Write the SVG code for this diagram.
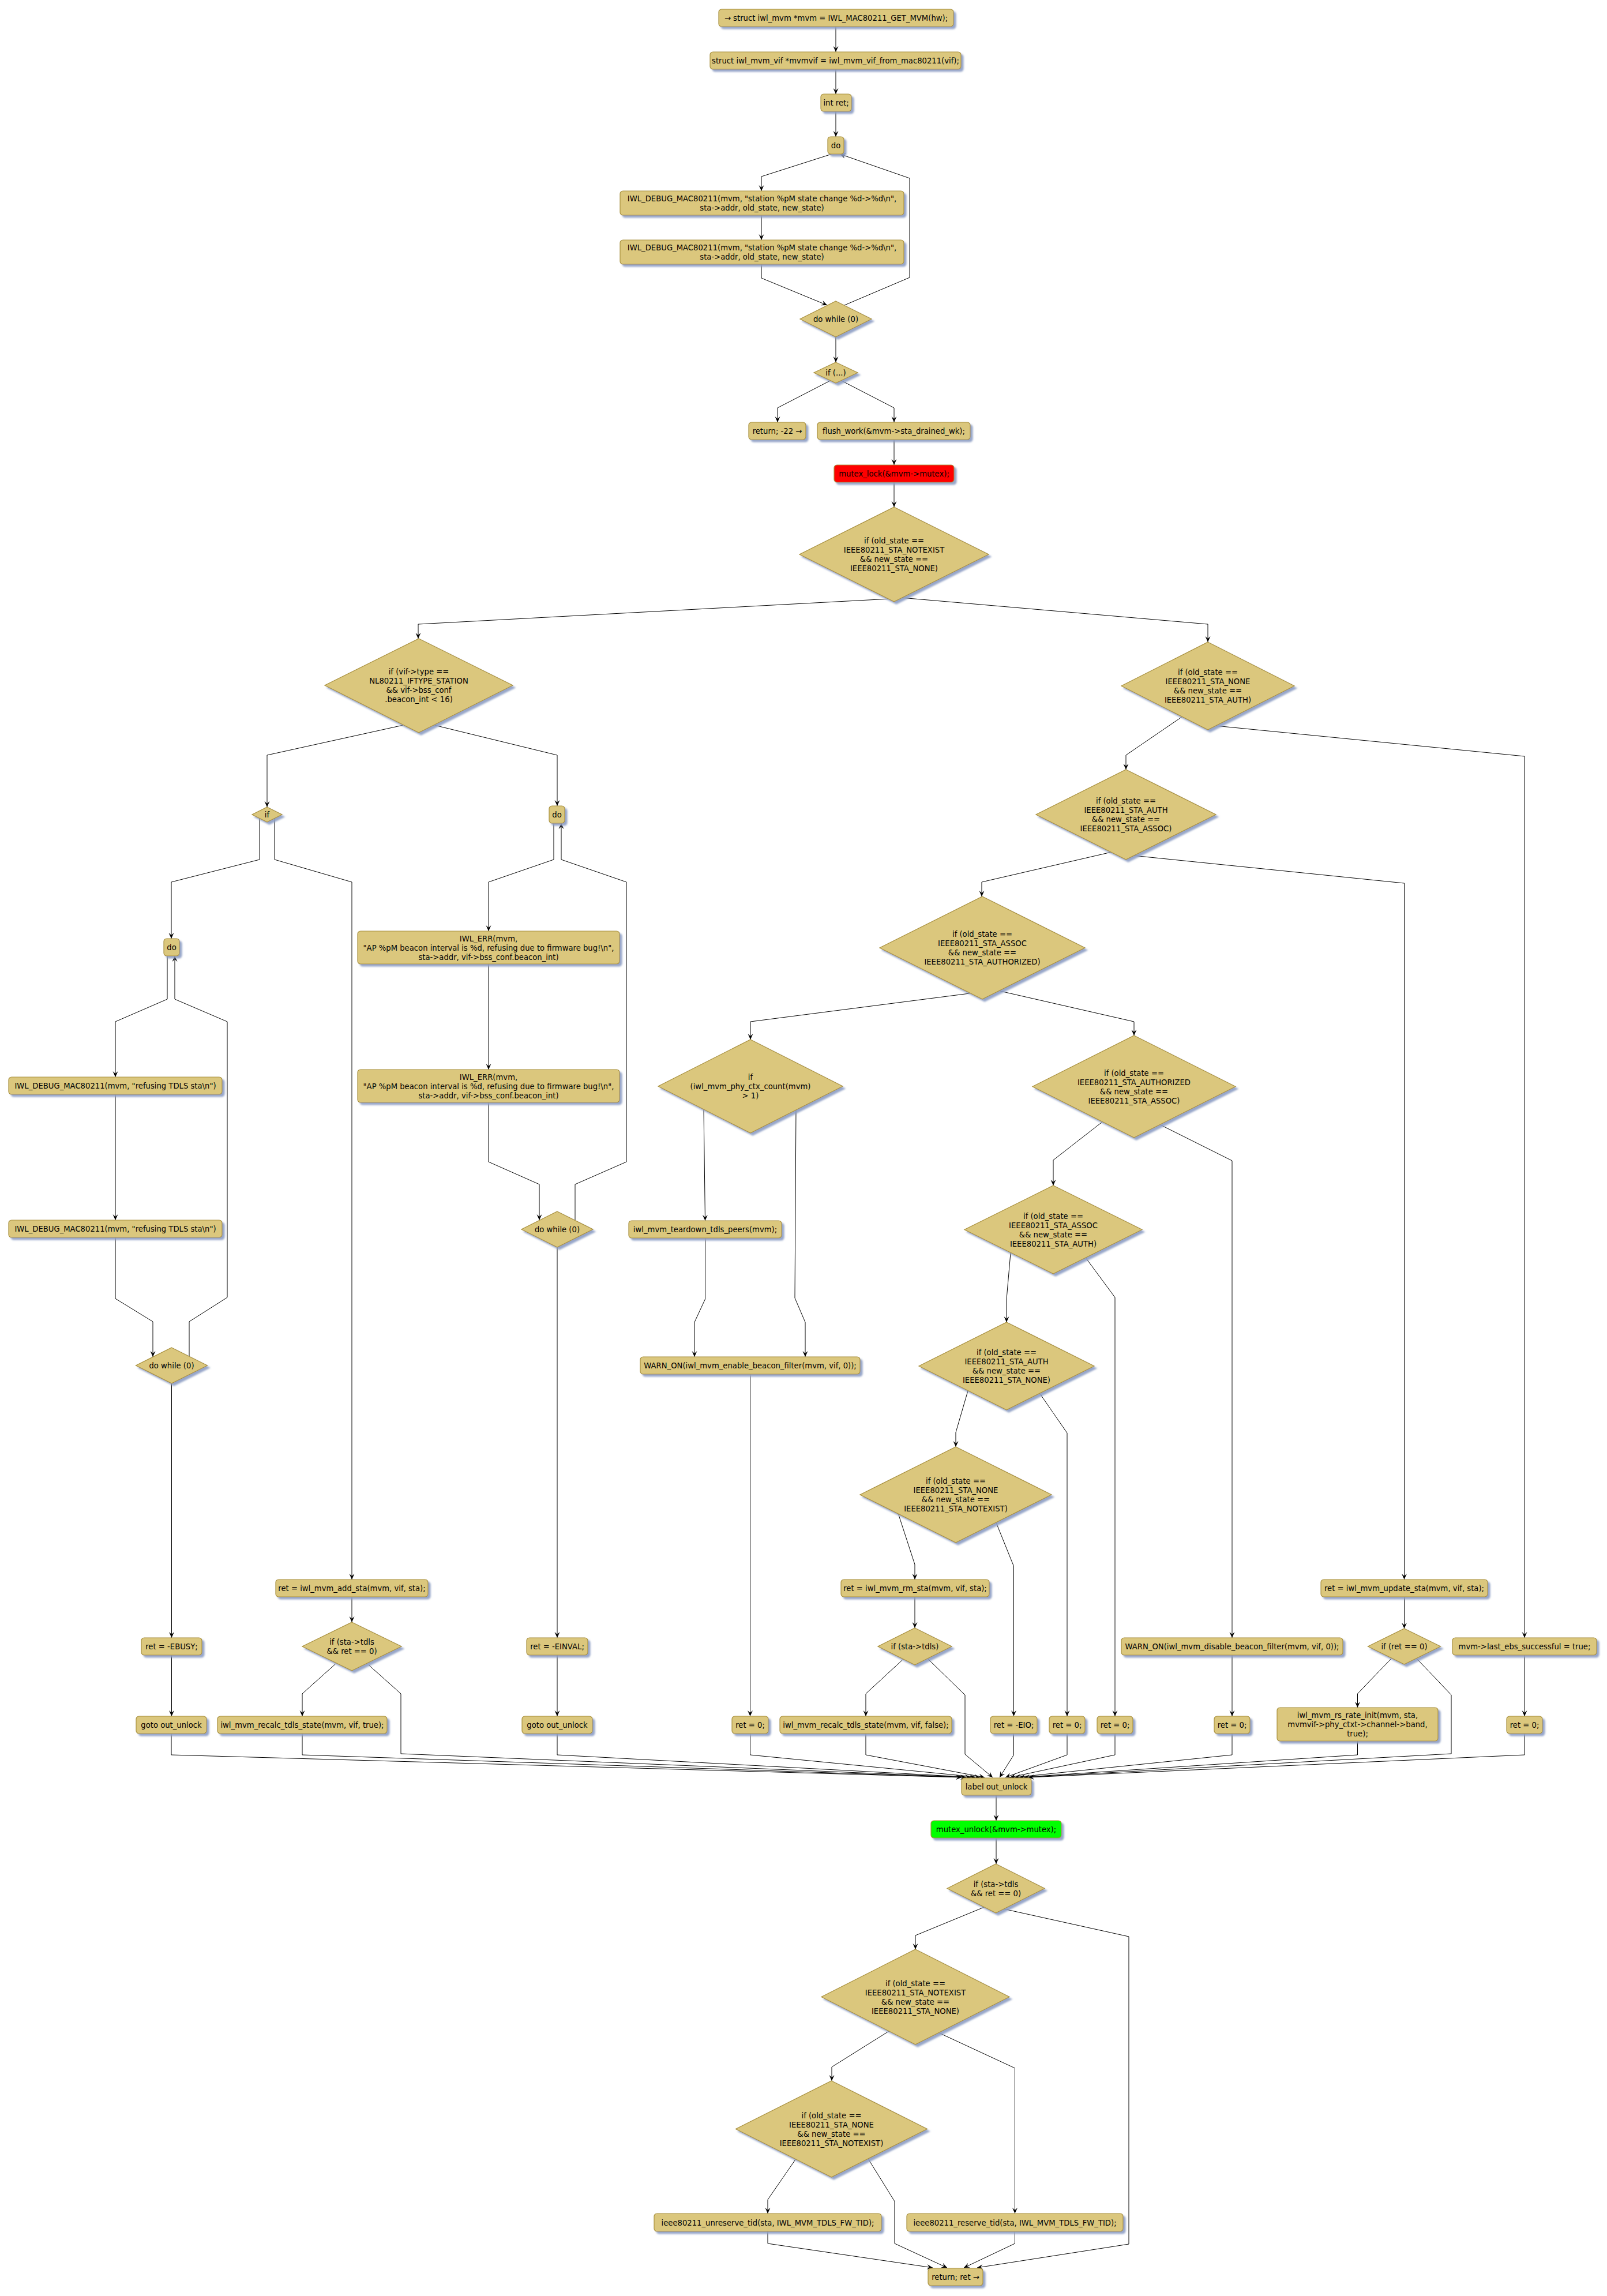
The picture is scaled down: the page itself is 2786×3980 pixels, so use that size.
<svg xmlns="http://www.w3.org/2000/svg" width="2786" height="3980" viewBox="0 0 2786 3980">
<defs>
<style>
text{font-family:"DejaVu Sans","Liberation Sans",sans-serif;font-size:13.2px;fill:#000;text-anchor:middle}
.n rect,.n polygon{fill:#DBC77D;stroke:#A8903F;stroke-width:1.2;filter:url(#sh)}
.red rect{fill:#FF0000}
.grn rect{fill:#00FF00}
.e polyline{fill:none;stroke:#000;stroke-width:1;marker-end:url(#ah)}
</style>
<filter id="sh" x="-20%" y="-20%" width="150%" height="160%">
<feGaussianBlur in="SourceAlpha" stdDeviation="1.5" result="b"/>
<feOffset in="b" dx="4" dy="4" result="o"/>
<feFlood flood-color="#8C9DC4" flood-opacity="0.9"/>
<feComposite in2="o" operator="in" result="s"/>
<feMerge><feMergeNode in="s"/><feMergeNode in="SourceGraphic"/></feMerge>
</filter>
<marker id="ah" viewBox="-11 -5 12 10" refX="0" refY="0" markerWidth="12" markerHeight="10" markerUnits="userSpaceOnUse" orient="auto">
<path d="M0,0 L-10,-4.5 L-6,0 L-10,4.5 Z" fill="#000"/>
</marker>
</defs>
<rect x="0" y="0" width="2786" height="3980" fill="#FFFFFF"/>

<g id="connectors" class="e">
<polyline points="1449,46 1449,90"/>
<polyline points="1449,120 1449,163"/>
<polyline points="1449,193 1449,237"/>
<polyline points="1442,267 1320,306 1320,331"/>
<polyline points="1320,373 1320,416"/>
<polyline points="1320,458 1320,482 1434,529"/>
<polyline points="1464,529 1577,481 1577,309 1456,267"/>
<polyline points="1449,584 1449,628"/>
<polyline points="1439,660 1348,707 1348,732"/>
<polyline points="1459,660 1550,707 1550,732"/>
<polyline points="1550,762 1550,806"/>
<polyline points="1550,836 1550,879"/>
<polyline points="1543,1038 725,1082 725,1107"/>
<polyline points="1562,1036 2094,1082 2094,1113"/>
<polyline points="699,1257 463,1309 463,1399"/>
<polyline points="753,1257 966,1309 966,1397"/>
<polyline points="450,1418 450,1490 297,1529 297,1627"/>
<polyline points="476,1418 476,1490 610,1529 610,2738"/>
<polyline points="290,1657 290,1732 200,1771 200,1867"/>
<polyline points="200,1897 200,2115"/>
<polyline points="200,2145 200,2251 265,2291 265,2352"/>
<polyline points="328,2352 328,2291 394,2249 394,1771 303,1732 303,1657"/>
<polyline points="297.5,2398 297.5,2839"/>
<polyline points="297.5,2869 297.5,2975"/>
<polyline points="960,1427 960,1490 847,1529 847,1614"/>
<polyline points="847,1671 847,1854"/>
<polyline points="847,1911 847,2014 935,2053 935,2115"/>
<polyline points="997,2115 997,2053 1086,2014 1086,1529 973,1490 973,1427"/>
<polyline points="966,2162 966,2839"/>
<polyline points="966,2869 966,2975"/>
<polyline points="610,2768 610,2812"/>
<polyline points="582,2884 524,2936 524,2975"/>
<polyline points="2050,1242 1952,1309 1952,1334"/>
<polyline points="2107,1258 2643,1311 2643,2839"/>
<polyline points="1927,1477 1702,1529 1702,1554"/>
<polyline points="1964,1483 2434.5,1531 2434.5,2738"/>
<polyline points="1681,1722 1301,1771 1301,1802"/>
<polyline points="1734,1718 1966,1771 1966,1795"/>
<polyline points="1220,1922 1222.5,2116"/>
<polyline points="1380,1922 1378,2250 1396,2292 1396,2352"/>
<polyline points="1222.5,2146 1222.5,2252 1204,2292 1204,2352"/>
<polyline points="1300.5,2382 1300.5,2975"/>
<polyline points="1912,1944 1826,2011 1826,2055"/>
<polyline points="2010,1949 2136,2012 2136,2839"/>
<polyline points="1752,2172 1745,2252 1745,2292"/>
<polyline points="1882,2180 1933,2249 1933,2975"/>
<polyline points="1678,2411 1657,2483 1657,2508"/>
<polyline points="1803,2416 1850,2484 1850,2975"/>
<polyline points="1557,2623 1586,2712 1586,2738"/>
<polyline points="1726,2637 1757.5,2715 1757.5,2975"/>
<polyline points="1586,2768 1586,2822"/>
<polyline points="1566,2876 1501,2936 1501,2975"/>
<polyline points="2136,2869 2136,2975"/>
<polyline points="2434.5,2768 2434.5,2823"/>
<polyline points="2412,2875 2353.5,2936 2353.5,2960"/>
<polyline points="2643,2869 2643,2975"/>
<polyline points="297,3005 297,3042 1667,3081"/>
<polyline points="524,3005 524,3042 1675,3081"/>
<polyline points="639,2886 695,2936 695,3040 1683,3081"/>
<polyline points="966,3005 966,3042 1691,3081"/>
<polyline points="1300.5,3005 1300.5,3042 1699,3081"/>
<polyline points="1501,3005 1501,3042 1707,3081"/>
<polyline points="1609,2876 1673,2938 1673,3041 1721,3081"/>
<polyline points="1757.5,3005 1757.5,3042 1733,3081"/>
<polyline points="1850,3005 1850,3042 1743,3081"/>
<polyline points="1933,3005 1933,3042 1751,3081"/>
<polyline points="2136,3005 2136,3042 1759,3081"/>
<polyline points="2353.5,3018 2353.5,3042 1767,3081"/>
<polyline points="2456,2875 2516,2938 2516,3040 1775,3081"/>
<polyline points="2643,3005 2643,3042 1783,3081"/>
<polyline points="1727,3112 1727,3156"/>
<polyline points="1727,3186 1727,3231"/>
<polyline points="1706,3306 1587,3355 1587,3379"/>
<polyline points="1740,3309 1957,3357 1957,3890 1694,3931"/>
<polyline points="1541,3521 1442,3583 1442,3607"/>
<polyline points="1626,3523 1759.5,3585 1759.5,3837"/>
<polyline points="1380,3742 1331,3813 1331,3837"/>
<polyline points="1505,3742 1551,3816 1551,3889 1642,3931"/>
<polyline points="1331,3868 1331,3889 1617,3931"/>
<polyline points="1759.5,3868 1759.5,3889 1671,3931"/>
</g>

<g id="n1" class="n"><rect x="1246" y="16" width="407" height="30" rx="5"/><text x="1449.5" y="36">→ struct iwl_mvm *mvm = IWL_MAC80211_GET_MVM(hw);</text></g>
<g id="n2" class="n"><rect x="1231" y="90" width="435" height="30" rx="5"/><text x="1448.5" y="110">struct iwl_mvm_vif *mvmvif = iwl_mvm_vif_from_mac80211(vif);</text></g>
<g id="n3" class="n"><rect x="1423" y="163" width="53" height="30" rx="5"/><text x="1449.5" y="183">int ret;</text></g>
<g id="n4" class="n"><rect x="1435" y="237" width="28" height="30" rx="5"/><text x="1449" y="257">do</text></g>
<g id="n5" class="n"><rect x="1075" y="331" width="492" height="42" rx="5"/><text x="1321" y="349">IWL_DEBUG_MAC80211(mvm, "station %pM state change %d-&gt;%d\n",</text><text x="1321" y="365">sta-&gt;addr, old_state, new_state)</text></g>
<g id="n6" class="n"><rect x="1075" y="416" width="492" height="42" rx="5"/><text x="1321" y="434">IWL_DEBUG_MAC80211(mvm, "station %pM state change %d-&gt;%d\n",</text><text x="1321" y="450">sta-&gt;addr, old_state, new_state)</text></g>
<g id="d1" class="n"><polygon points="1449,522 1511,553 1449,584 1387,553"/><text x="1449" y="558">do while (0)</text></g>
<g id="d2" class="n"><polygon points="1449,628 1487,646 1449,664 1411,646"/><text x="1449" y="651">if (...)</text></g>
<g id="n7" class="n"><rect x="1298" y="732" width="99" height="30" rx="5"/><text x="1347.5" y="752">return; -22 →</text></g>
<g id="n8" class="n"><rect x="1417" y="732" width="265" height="30" rx="5"/><text x="1549.5" y="752">flush_work(&amp;mvm-&gt;sta_drained_wk);</text></g>
<g id="n9" class="n red"><rect x="1446" y="806" width="208" height="30" rx="5"/><text x="1550" y="826">mutex_lock(&amp;mvm-&gt;mutex);</text></g>
<g id="d3" class="n"><polygon points="1550,879 1714,961 1550,1043 1386,961"/><text x="1550" y="942">if (old_state ==</text><text x="1550" y="958">IEEE80211_STA_NOTEXIST</text><text x="1550" y="974">&amp;&amp; new_state ==</text><text x="1550" y="990">IEEE80211_STA_NONE)</text></g>
<g id="d4" class="n"><polygon points="726,1107 889,1188 726,1270 563,1188"/><text x="726" y="1169">if (vif-&gt;type ==</text><text x="726" y="1185">NL80211_IFTYPE_STATION</text><text x="726" y="1201">&amp;&amp; vif-&gt;bss_conf</text><text x="726" y="1217">.beacon_int &lt; 16)</text></g>
<g id="d5" class="n"><polygon points="2094,1113 2244,1189 2094,1265 1944,1189"/><text x="2094" y="1170">if (old_state ==</text><text x="2094" y="1186">IEEE80211_STA_NONE</text><text x="2094" y="1202">&amp;&amp; new_state ==</text><text x="2094" y="1218">IEEE80211_STA_AUTH)</text></g>
<g id="d6" class="n"><polygon points="463,1399 489,1412 463,1425 437,1412"/><text x="463" y="1417">if</text></g>
<g id="n10" class="n"><rect x="952" y="1397" width="27" height="30" rx="5"/><text x="965.5" y="1417">do</text></g>
<g id="d7" class="n"><polygon points="1952,1334 2108,1412 1952,1490 1796,1412"/><text x="1952" y="1393">if (old_state ==</text><text x="1952" y="1409">IEEE80211_STA_AUTH</text><text x="1952" y="1425">&amp;&amp; new_state ==</text><text x="1952" y="1441">IEEE80211_STA_ASSOC)</text></g>
<g id="n11" class="n"><rect x="284" y="1627" width="27" height="30" rx="5"/><text x="297.5" y="1647">do</text></g>
<g id="n12" class="n"><rect x="620" y="1614" width="454" height="57" rx="5"/><text x="847" y="1631.5">IWL_ERR(mvm,</text><text x="847" y="1647.5">"AP %pM beacon interval is %d, refusing due to firmware bug!\n",</text><text x="847" y="1663.5">sta-&gt;addr, vif-&gt;bss_conf.beacon_int)</text></g>
<g id="d8" class="n"><polygon points="1703,1554 1881,1643 1703,1732 1525,1643"/><text x="1703" y="1624">if (old_state ==</text><text x="1703" y="1640">IEEE80211_STA_ASSOC</text><text x="1703" y="1656">&amp;&amp; new_state ==</text><text x="1703" y="1672">IEEE80211_STA_AUTHORIZED)</text></g>
<g id="n13" class="n"><rect x="620" y="1854" width="454" height="57" rx="5"/><text x="847" y="1871.5">IWL_ERR(mvm,</text><text x="847" y="1887.5">"AP %pM beacon interval is %d, refusing due to firmware bug!\n",</text><text x="847" y="1903.5">sta-&gt;addr, vif-&gt;bss_conf.beacon_int)</text></g>
<g id="n14" class="n"><rect x="15" y="1867" width="370" height="30" rx="5"/><text x="200" y="1887">IWL_DEBUG_MAC80211(mvm, "refusing TDLS sta\n")</text></g>
<g id="d9" class="n"><polygon points="1301,1802 1461,1883 1301,1964 1141,1883"/><text x="1301" y="1872">if</text><text x="1301" y="1888">(iwl_mvm_phy_ctx_count(mvm)</text><text x="1301" y="1904">&gt; 1)</text></g>
<g id="d10" class="n"><polygon points="1966,1795 2142,1883.5 1966,1972 1790,1883.5"/><text x="1966" y="1864.5">if (old_state ==</text><text x="1966" y="1880.5">IEEE80211_STA_AUTHORIZED</text><text x="1966" y="1896.5">&amp;&amp; new_state ==</text><text x="1966" y="1912.5">IEEE80211_STA_ASSOC)</text></g>
<g id="d11" class="n"><polygon points="966,2100 1028,2131 966,2162 904,2131"/><text x="966" y="2136">do while (0)</text></g>
<g id="n15" class="n"><rect x="15" y="2115" width="370" height="30" rx="5"/><text x="200" y="2135">IWL_DEBUG_MAC80211(mvm, "refusing TDLS sta\n")</text></g>
<g id="n16" class="n"><rect x="1090" y="2116" width="265" height="30" rx="5"/><text x="1222.5" y="2136">iwl_mvm_teardown_tdls_peers(mvm);</text></g>
<g id="d12" class="n"><polygon points="1826,2055 1980,2131.5 1826,2208 1672,2131.5"/><text x="1826" y="2112.5">if (old_state ==</text><text x="1826" y="2128.5">IEEE80211_STA_ASSOC</text><text x="1826" y="2144.5">&amp;&amp; new_state ==</text><text x="1826" y="2160.5">IEEE80211_STA_AUTH)</text></g>
<g id="d13" class="n"><polygon points="297.5,2336 359.5,2367 297.5,2398 235.5,2367"/><text x="297.5" y="2372">do while (0)</text></g>
<g id="n17" class="n"><rect x="1110" y="2352" width="381" height="30" rx="5"/><text x="1300.5" y="2372">WARN_ON(iwl_mvm_enable_beacon_filter(mvm, vif, 0));</text></g>
<g id="d14" class="n"><polygon points="1745,2292 1897,2368 1745,2444 1593,2368"/><text x="1745" y="2349">if (old_state ==</text><text x="1745" y="2365">IEEE80211_STA_AUTH</text><text x="1745" y="2381">&amp;&amp; new_state ==</text><text x="1745" y="2397">IEEE80211_STA_NONE)</text></g>
<g id="d15" class="n"><polygon points="1657,2508 1823,2591 1657,2674 1491,2591"/><text x="1657" y="2572">if (old_state ==</text><text x="1657" y="2588">IEEE80211_STA_NONE</text><text x="1657" y="2604">&amp;&amp; new_state ==</text><text x="1657" y="2620">IEEE80211_STA_NOTEXIST)</text></g>
<g id="n18" class="n"><rect x="478" y="2738" width="264" height="30" rx="5"/><text x="610" y="2758">ret = iwl_mvm_add_sta(mvm, vif, sta);</text></g>
<g id="n19" class="n"><rect x="1458" y="2738" width="257" height="30" rx="5"/><text x="1586.5" y="2758">ret = iwl_mvm_rm_sta(mvm, vif, sta);</text></g>
<g id="n20" class="n"><rect x="2290" y="2738" width="289" height="30" rx="5"/><text x="2434.5" y="2758">ret = iwl_mvm_update_sta(mvm, vif, sta);</text></g>
<g id="d16" class="n"><polygon points="610,2812 696,2854 610,2896 524,2854"/><text x="610" y="2851">if (sta-&gt;tdls</text><text x="610" y="2867">&amp;&amp; ret == 0)</text></g>
<g id="d17" class="n"><polygon points="1586,2822 1650,2854 1586,2886 1522,2854"/><text x="1586" y="2859">if (sta-&gt;tdls)</text></g>
<g id="d18" class="n"><polygon points="2434.5,2823 2497.5,2854 2434.5,2885 2371.5,2854"/><text x="2434.5" y="2859">if (ret == 0)</text></g>
<g id="n21" class="n"><rect x="245" y="2839" width="105" height="30" rx="5"/><text x="297.5" y="2859">ret = -EBUSY;</text></g>
<g id="n22" class="n"><rect x="913" y="2839" width="106" height="30" rx="5"/><text x="966" y="2859">ret = -EINVAL;</text></g>
<g id="n23" class="n"><rect x="1944" y="2839" width="384" height="30" rx="5"/><text x="2136" y="2859">WARN_ON(iwl_mvm_disable_beacon_filter(mvm, vif, 0));</text></g>
<g id="n24" class="n"><rect x="2518" y="2839" width="250" height="30" rx="5"/><text x="2643" y="2859">mvm-&gt;last_ebs_successful = true;</text></g>
<g id="n25" class="n"><rect x="236" y="2975" width="122" height="30" rx="5"/><text x="297" y="2995">goto out_unlock</text></g>
<g id="n26" class="n"><rect x="377" y="2975" width="294" height="30" rx="5"/><text x="524" y="2995">iwl_mvm_recalc_tdls_state(mvm, vif, true);</text></g>
<g id="n27" class="n"><rect x="905" y="2975" width="122" height="30" rx="5"/><text x="966" y="2995">goto out_unlock</text></g>
<g id="n28" class="n"><rect x="1269" y="2975" width="63" height="30" rx="5"/><text x="1300.5" y="2995">ret = 0;</text></g>
<g id="n29" class="n"><rect x="1352" y="2975" width="298" height="30" rx="5"/><text x="1501" y="2995">iwl_mvm_recalc_tdls_state(mvm, vif, false);</text></g>
<g id="n30" class="n"><rect x="1717" y="2975" width="81" height="30" rx="5"/><text x="1757.5" y="2995">ret = -EIO;</text></g>
<g id="n31" class="n"><rect x="1819" y="2975" width="62" height="30" rx="5"/><text x="1850" y="2995">ret = 0;</text></g>
<g id="n32" class="n"><rect x="1902" y="2975" width="62" height="30" rx="5"/><text x="1933" y="2995">ret = 0;</text></g>
<g id="n33" class="n"><rect x="2105" y="2975" width="62" height="30" rx="5"/><text x="2136" y="2995">ret = 0;</text></g>
<g id="n34" class="n"><rect x="2214" y="2960" width="279" height="58" rx="5"/><text x="2353.5" y="2978">iwl_mvm_rs_rate_init(mvm, sta,</text><text x="2353.5" y="2994">mvmvif-&gt;phy_ctxt-&gt;channel-&gt;band,</text><text x="2353.5" y="3010">true);</text></g>
<g id="n35" class="n"><rect x="2612" y="2975" width="62" height="30" rx="5"/><text x="2643" y="2995">ret = 0;</text></g>
<g id="n36" class="n"><rect x="1667" y="3082" width="121" height="30" rx="5"/><text x="1727.5" y="3102">label out_unlock</text></g>
<g id="n37" class="n grn"><rect x="1614" y="3156" width="226" height="30" rx="5"/><text x="1727" y="3176">mutex_unlock(&amp;mvm-&gt;mutex);</text></g>
<g id="d19" class="n"><polygon points="1726.5,3231 1811,3273.5 1726.5,3316 1642,3273.5"/><text x="1726.5" y="3270.5">if (sta-&gt;tdls</text><text x="1726.5" y="3286.5">&amp;&amp; ret == 0)</text></g>
<g id="d20" class="n"><polygon points="1587,3379 1750,3461.5 1587,3544 1424,3461.5"/><text x="1587" y="3442.5">if (old_state ==</text><text x="1587" y="3458.5">IEEE80211_STA_NOTEXIST</text><text x="1587" y="3474.5">&amp;&amp; new_state ==</text><text x="1587" y="3490.5">IEEE80211_STA_NONE)</text></g>
<g id="d21" class="n"><polygon points="1441.5,3607 1607.5,3690.5 1441.5,3774 1275.5,3690.5"/><text x="1441.5" y="3671.5">if (old_state ==</text><text x="1441.5" y="3687.5">IEEE80211_STA_NONE</text><text x="1441.5" y="3703.5">&amp;&amp; new_state ==</text><text x="1441.5" y="3719.5">IEEE80211_STA_NOTEXIST)</text></g>
<g id="n38" class="n"><rect x="1134" y="3837" width="394" height="31" rx="5"/><text x="1331" y="3857.5">ieee80211_unreserve_tid(sta, IWL_MVM_TDLS_FW_TID);</text></g>
<g id="n39" class="n"><rect x="1572" y="3837" width="375" height="31" rx="5"/><text x="1759.5" y="3857.5">ieee80211_reserve_tid(sta, IWL_MVM_TDLS_FW_TID);</text></g>
<g id="n40" class="n"><rect x="1609" y="3932" width="95" height="30" rx="5"/><text x="1656.5" y="3952">return; ret →</text></g>
</svg>
